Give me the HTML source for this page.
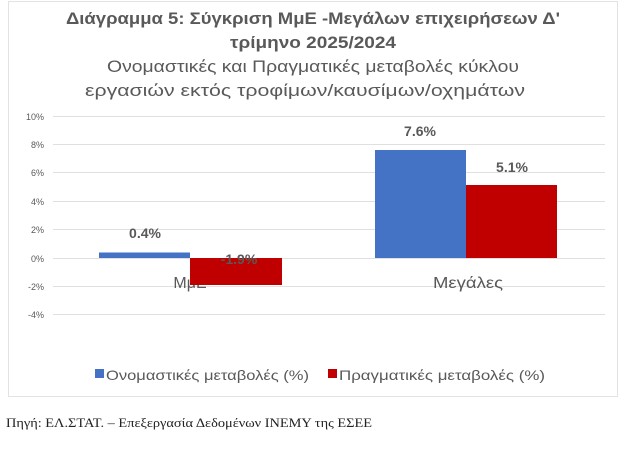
<!DOCTYPE html>
<html><head><meta charset="utf-8"><style>
body{margin:0;background:#fff;width:625px;height:444px;overflow:hidden}
svg text{font-family:"Liberation Sans","DejaVu Sans",sans-serif}
</style></head><body>
<svg width="625" height="444" viewBox="0 0 625 444">
<rect x="8.5" y="1.5" width="609" height="395" fill="#fff" stroke="#e3e3e3"/>
<g fill="#595959" text-anchor="middle">
<text x="313" y="24" font-size="17" font-weight="bold" textLength="494" lengthAdjust="spacingAndGlyphs">Διάγραμμα 5: Σύγκριση ΜμΕ -Μεγάλων επιχειρήσεων Δ'</text>
<text x="313" y="48" font-size="17" font-weight="bold" textLength="166" lengthAdjust="spacingAndGlyphs">τρίμηνο 2025/2024</text>
<text x="313" y="72" font-size="17" textLength="412" lengthAdjust="spacingAndGlyphs">Ονομαστικές και Πραγματικές μεταβολές κύκλου</text>
<text x="305" y="96" font-size="17" textLength="440" lengthAdjust="spacingAndGlyphs">εργασιών εκτός τροφίμων/καυσίμων/οχημάτων</text>
</g>
<g stroke="#e0e0e0" stroke-width="1">
<line x1="53" x2="605" y1="116.5" y2="116.5"/><line x1="53" x2="605" y1="144.5" y2="144.5"/>
<line x1="53" x2="605" y1="172.5" y2="172.5"/><line x1="53" x2="605" y1="201.5" y2="201.5"/>
<line x1="53" x2="605" y1="229.5" y2="229.5"/><line x1="53" x2="605" y1="258.5" y2="258.5"/>
<line x1="53" x2="605" y1="286.5" y2="286.5"/><line x1="53" x2="605" y1="314.5" y2="314.5"/>
</g>
<g fill="#595959" font-size="9" text-anchor="end">
<text x="44" y="120">10%</text><text x="44" y="148">8%</text><text x="44" y="176">6%</text>
<text x="44" y="205">4%</text><text x="44" y="233">2%</text><text x="44" y="262">0%</text>
<text x="44" y="290">-2%</text><text x="44" y="318">-4%</text>
</g>
<g fill="#595959" font-size="16" text-anchor="middle">
<text x="190" y="288">ΜμΕ</text><text x="468" y="288" textLength="70" lengthAdjust="spacingAndGlyphs">Μεγάλες</text>
</g>
<rect x="99" y="252.5" width="91" height="5.5" fill="#4472c4"/>
<rect x="190" y="258" width="92" height="27" fill="#c00000"/>
<rect x="375" y="150" width="91" height="108" fill="#4472c4"/>
<rect x="466" y="185" width="91" height="73" fill="#c00000"/>
<g fill="#595959" font-size="14" font-weight="bold" text-anchor="middle">
<text x="145" y="238">0.4%</text><text x="239" y="264">-1.9%</text>
<text x="420" y="136">7.6%</text><text x="512" y="172">5.1%</text>
</g>
<rect x="95" y="369" width="9" height="9" fill="#4472c4"/>
<text x="106" y="380" font-size="14" fill="#595959" textLength="203" lengthAdjust="spacingAndGlyphs">Ονομαστικές μεταβολές (%)</text>
<rect x="328" y="369" width="9" height="9" fill="#c00000"/>
<text x="339" y="380" font-size="14" fill="#595959" textLength="206" lengthAdjust="spacingAndGlyphs">Πραγματικές μεταβολές (%)</text>
<text x="6" y="427" font-size="13" fill="#222" style="font-family:'Liberation Serif','DejaVu Serif',serif" textLength="366" lengthAdjust="spacingAndGlyphs">Πηγή: ΕΛ.ΣΤΑΤ. – Επεξεργασία Δεδομένων ΙΝΕΜΥ της ΕΣΕΕ</text>
</svg>
</body></html>
